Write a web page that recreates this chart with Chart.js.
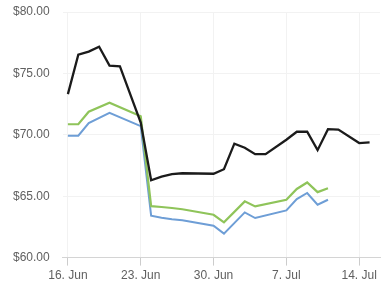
<!DOCTYPE html>
<html>
<head>
<meta charset="utf-8">
<script src="https://cdn.jsdelivr.net/npm/chart.js@4"></script>
<style>
  html, body { margin: 0; padding: 0; background: #fff; }
  #wrap { width: 385px; height: 300px; position: relative; }
</style>
</head>
<body>
<div id="wrap"><canvas id="priceChart"></canvas></div>
<script>
// days counted from 16 Jun
const tickDays = [0, 7, 14, 21, 28];
const tickLabels = ['16. Jun', '23. Jun', '30. Jun', '7. Jul', '14. Jul'];
const yTicks = [60, 65, 70, 75, 80];

const blackDays = [0, 1, 2, 3, 4, 5, 7, 8, 9, 10, 11, 14, 15, 16, 17, 18, 19, 21, 22, 23, 24, 25, 26, 28, 29];
const blackValues = [73.31, 76.52, 76.77, 77.17, 75.63, 75.57, 70.99, 66.30, 66.59, 66.79, 66.87, 66.83, 67.20,
                     69.28, 68.95, 68.42, 68.42, 69.60, 70.25, 70.25, 68.75, 70.46, 70.42, 69.33, 69.38];

const greenDays = [0, 1, 2, 4, 7, 8, 9, 10, 11, 14, 15, 17, 18, 21, 22, 23, 24, 25];
const greenValues = [70.86, 70.86, 71.88, 72.61, 71.51, 64.19, 64.12, 64.04, 63.94, 63.49, 62.87,
                     64.58, 64.17, 64.71, 65.59, 66.12, 65.33, 65.65];

const blueDays = [0, 1, 2, 4, 7, 8, 9, 10, 11, 14, 15, 17, 18, 21, 22, 23, 24, 25];
const blueValues = [69.93, 69.93, 70.96, 71.78, 70.70, 63.41, 63.25, 63.13, 63.05, 62.60, 61.95,
                    63.68, 63.22, 63.84, 64.77, 65.26, 64.31, 64.71];

const toPoints = (days, values) => days.map((d, i) => ({ x: d, y: values[i] }));

const ctx = document.getElementById('priceChart').getContext('2d');

new Chart(ctx, {
    type: 'line',
    data: {
        datasets: [
            { data: toPoints(blackDays, blackValues), borderColor: '#1b1b1b', borderWidth: 2.3 },
            { data: toPoints(greenDays, greenValues), borderColor: '#8fc45a', borderWidth: 2.2 },
            { data: toPoints(blueDays, blueValues), borderColor: '#6e9ed6', borderWidth: 2 }
        ]
    },
    options: {
        responsive: true,
        maintainAspectRatio: false,
        animation: false,
        layout: { padding: { top: 12, right: 5, bottom: 14, left: 0 } },
        elements: {
            point: { radius: 0 },
            line: { tension: 0, fill: false }
        },
        plugins: {
            legend: { display: false },
            tooltip: { enabled: false }
        },
        scales: {
            x: {
                type: 'linear',
                min: -0.5,
                max: 30,
                afterBuildTicks: scale => { scale.ticks = tickDays.map(v => ({ value: v })); },
                grid: { color: '#f2f2f2', tickColor: '#cccccc', tickLength: 8 },
                border: { color: '#d4d4d4' },
                ticks: {
                    padding: 3,
                    maxRotation: 0,
                    color: '#606060',
                    font: { family: 'Liberation Sans, Arial, sans-serif', size: 12 },
                    callback: v => tickLabels[tickDays.indexOf(v)]
                }
            },
            y: {
                min: 60,
                max: 80,
                afterBuildTicks: scale => { scale.ticks = yTicks.map(v => ({ value: v })); },
                // labels sit flush with the top edge, like the original
                afterFit: scale => { scale.paddingTop = 0; scale.paddingBottom = 0; },
                grid: { color: '#f2f2f2', drawTicks: false },
                border: { display: false },
                ticks: {
                    padding: 13,
                    color: '#606060',
                    font: { family: 'Liberation Sans, Arial, sans-serif', size: 12 },
                    callback: v => '$' + v.toFixed(2)
                }
            }
        }
    }
});
</script>
</body>
</html>
